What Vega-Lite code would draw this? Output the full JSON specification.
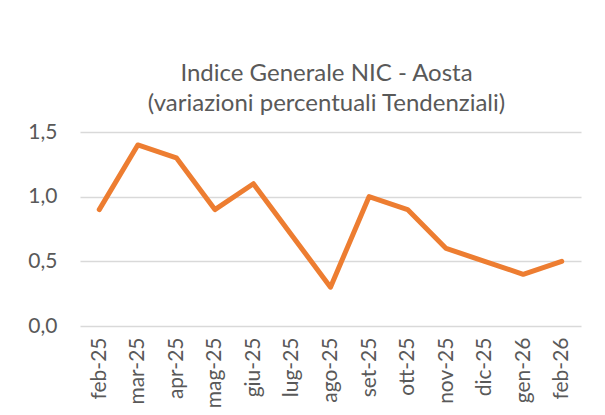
{
  "$schema": "https://vega.github.io/schema/vega-lite/v6.json",
  "autosize": "none",
  "width": 501,
  "height": 194,
  "padding": {"left": 80, "top": 132, "right": 24, "bottom": 89},
  "background": "white",
  "title": {
    "text": ["Indice Generale NIC - Aosta", "(variazioni percentuali Tendenziali)"],
    "anchor": "middle",
    "font": "Lato",
    "fontSize": 24,
    "fontWeight": "normal",
    "color": "#595959",
    "lineHeight": 30,
    "offset": 5,
    "dx": -4
  },
  "data": {
    "values": [
      {"mese": "feb-25", "valore": 0.9},
      {"mese": "mar-25", "valore": 1.4},
      {"mese": "apr-25", "valore": 1.3},
      {"mese": "mag-25", "valore": 0.9},
      {"mese": "giu-25", "valore": 1.1},
      {"mese": "lug-25", "valore": 0.7},
      {"mese": "ago-25", "valore": 0.3},
      {"mese": "set-25", "valore": 1.0},
      {"mese": "ott-25", "valore": 0.9},
      {"mese": "nov-25", "valore": 0.6},
      {"mese": "dic-25", "valore": 0.5},
      {"mese": "gen-26", "valore": 0.4},
      {"mese": "feb-26", "valore": 0.5}
    ]
  },
  "mark": {"type": "line", "color": "#ED7D31", "strokeWidth": 5, "strokeCap": "round", "strokeJoin": "round"},
  "encoding": {
    "x": {
      "field": "mese",
      "type": "ordinal",
      "sort": null,
      "scale": {"type": "point", "padding": 0.5},
      "axis": {
        "title": null,
        "labelAngle": -90,
        "labelPadding": 11,
        "ticks": false,
        "domain": false,
        "grid": false,
        "labelFont": "Lato",
        "labelFontSize": 21,
        "labelColor": "#595959"
      }
    },
    "y": {
      "field": "valore",
      "type": "quantitative",
      "scale": {"domain": [0, 1.5], "nice": false},
      "axis": {
        "title": null,
        "values": [0, 0.5, 1, 1.5],
        "labelExpr": "replace(format(datum.value, '.1f'), '.', ',')",
        "labelPadding": 23,
        "ticks": false,
        "domain": false,
        "gridColor": "#d9d9d9",
        "gridWidth": 1.5,
        "labelFont": "Lato",
        "labelFontSize": 21,
        "labelColor": "#595959"
      }
    }
  },
  "config": {"view": {"stroke": null}}
}
